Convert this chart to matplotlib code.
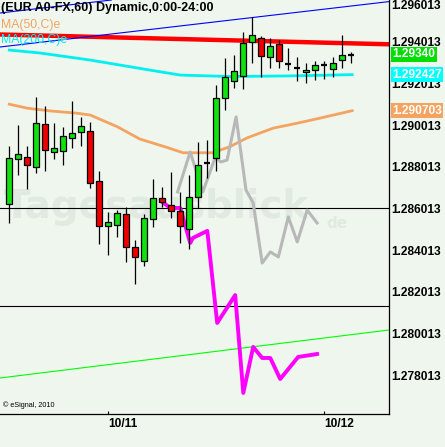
import matplotlib.pyplot as plt
import matplotlib.transforms as mtransforms
import numpy as np

plt.rcParams['font.family'] = ['Liberation Sans', 'DejaVu Sans']

# hourly candles, index 0 = 10/10 13:00
opens = [1.28621, 1.28837, 1.28846, 1.28798, 1.29005, 1.28870, 1.28877, 1.28937, 1.28968, 1.28973,
         1.28731, 1.28515, 1.28520, 1.28573, 1.28414, 1.28347, 1.28549, 1.28650, 1.28616, 1.28589,
         1.28501, 1.28654, 1.28821, 1.28842, 1.29130, 1.29213, 1.29238, 1.29401, 1.29417, 1.29326,
         1.29390, 1.29292, 1.29273, 1.29256, 1.29264, 1.29287, 1.29269, 1.29315, 1.29338]
highs = [1.28900, 1.29001, 1.28900, 1.29134, 1.29093, 1.29010, 1.28993, 1.29117, 1.29041, 1.29017,
         1.28781, 1.28582, 1.28593, 1.28609, 1.28449, 1.28574, 1.28742, 1.28704, 1.28774, 1.28680,
         1.28761, 1.28918, 1.28929, 1.29193, 1.29322, 1.29337, 1.29446, 1.29521, 1.29429, 1.29417,
         1.29409, 1.29370, 1.29326, 1.29300, 1.29310, 1.29310, 1.29329, 1.29433, 1.29353]
lows = [1.28532, 1.28761, 1.28696, 1.28772, 1.28782, 1.28837, 1.28811, 1.28892, 1.28902, 1.28700,
        1.28432, 1.28376, 1.28465, 1.28345, 1.28237, 1.28326, 1.28513, 1.28609, 1.28554, 1.28434,
        1.28405, 1.28602, 1.28746, 1.28782, 1.29073, 1.29178, 1.29173, 1.29298, 1.29233, 1.29274,
        1.29274, 1.29265, 1.29213, 1.29201, 1.29217, 1.29221, 1.29233, 1.29274, 1.29300]
closes = [1.28842, 1.28861, 1.28808, 1.29010, 1.28881, 1.28890, 1.28947, 1.28962, 1.28995, 1.28721,
          1.28517, 1.28534, 1.28578, 1.28414, 1.28366, 1.28554, 1.28650, 1.28633, 1.28589, 1.28515,
          1.28654, 1.28808, 1.28820, 1.29130, 1.29230, 1.29261, 1.29394, 1.29433, 1.29334, 1.29381,
          1.29307, 1.29291, 1.29272, 1.29265, 1.29288, 1.29286, 1.29298, 1.29337, 1.29340]

# moving averages
ma50_x = [0, 2.0, 4.5, 7.5, 9.0, 12.0, 14.5, 17.5, 19.3, 22.6, 24.5, 26.4, 29.3, 32.0, 34.5, 38.1]
ma50_y = [1.29101, 1.29082, 1.29069, 1.29058, 1.29049, 1.28993, 1.28934, 1.28894, 1.28868, 1.28868,
          1.28897, 1.28939, 1.28986, 1.29010, 1.29034, 1.29070]
ma200_x = [0, 3.4, 9.0, 12.3, 15.6, 19.0, 24.5, 31.2, 38.1]
ma200_y = [1.29361, 1.29347, 1.29313, 1.29289, 1.29265, 1.29241, 1.29234, 1.29237, 1.29243]

# overlay lines
gray_x = [18.7, 20.1, 21.5, 22.9, 23.5, 24.2, 25.2, 26.3, 27.1, 28.1, 29.0, 29.9, 31.0, 32.0, 33.1, 34.2]
gray_y = [1.28680, 1.28872, 1.28680, 1.28848, 1.28824, 1.28833, 1.29040, 1.28689, 1.28627, 1.28339,
          1.28392, 1.28368, 1.28560, 1.28440, 1.28593, 1.28531]
mag_x = [17, 17.9, 19, 20.1, 20.4, 22, 23.1, 25.1, 26, 27.1, 28.1, 29, 30.1, 32.1, 34.2]
mag_y = [1.28632, 1.28603, 1.28603, 1.28435, 1.28459, 1.28493, 1.28051, 1.28185, 1.27715, 1.27936,
         1.27883, 1.27883, 1.27782, 1.27888, 1.27902]

# trend lines (two anchor points each: index 0 and index 40)
red_trend = [1.294346, 1.293911]
blue_low = [1.293809, 1.295826]
blue_high = [1.295441, 1.297458]
green_trend = [1.277924, 1.280056]
hlines = [1.28603, 1.28132]

ytick_vals = [1.278013, 1.280013, 1.282013, 1.284013, 1.286013, 1.288013, 1.290013, 1.292013, 1.294013, 1.296013]
xtick_pos = [11, 35]
xtick_labels = ['10/11', '10/12']

last_price = 1.29340
ma200_last = 1.292427
ma50_last = 1.290703

bg = '#eef6ee'
fig = plt.figure(figsize=(4.45, 4.47), dpi=100, facecolor=bg)
ax = fig.add_axes([0, 33 / 447, 389 / 445, 414 / 447], facecolor=bg)

# watermark
ax.text(0.01, 0.5, 'Tagesausblick', transform=ax.transAxes, fontsize=28, fontweight='bold',
        family='DejaVu Sans', color='#e1eae1', va='center', ha='left', zorder=0.5)
ax.text(0.84, 0.46, 'de', transform=ax.transAxes, fontsize=11, fontweight='bold',
        family='DejaVu Sans', color='#e1eae1', va='center', ha='left', zorder=0.5)

for y in hlines:
    ax.axhline(y, color='black', lw=0.8, zorder=1)
ax.axline((0, red_trend[0]), (40, red_trend[1]), color='#ff0000', lw=3.2, zorder=1)
ax.axline((0, blue_low[0]), (40, blue_low[1]), color='#0000ff', lw=0.8, zorder=1)
ax.axline((0, blue_high[0]), (40, blue_high[1]), color='#0000ff', lw=0.8, zorder=1)
ax.axline((0, green_trend[0]), (40, green_trend[1]), color='#00ff00', lw=0.8, zorder=1)

ax.plot(ma50_x, ma50_y, color='#f4a460', lw=2.0, zorder=2)
ax.plot(ma200_x, ma200_y, color='#00f0f0', lw=2.0, zorder=2)
ax.plot(gray_x, gray_y, color='#b8b8b8', lw=2.2, zorder=2)
ax.plot(mag_x, mag_y, color='#ff00ff', lw=2.8, zorder=2)

# candles
idx = np.arange(len(opens))
o = np.array(opens)
c = np.array(closes)
ax.vlines(idx, lows, highs, color='black', lw=0.9, zorder=3)
body = c - o
doji = np.abs(body) < 0.00003
up = (body > 0) & ~doji
down = (body < 0) & ~doji
ax.bar(idx[up], body[up], bottom=o[up], width=0.65, color='#11e011', edgecolor='black', lw=0.9, zorder=4)
ax.bar(idx[down], body[down], bottom=o[down], width=0.65, color='#ee0000', edgecolor='black', lw=0.9, zorder=4)
ax.hlines(o[doji], idx[doji] - 0.33, idx[doji] + 0.33, color='black', lw=1.6, zorder=4)

ax.set_xlim(-1.033, 42.19)
ax.set_ylim(1.276141, 1.296013)

for s in ['left', 'top']:
    ax.spines[s].set_visible(False)
for s in ['right', 'bottom']:
    ax.spines[s].set_linewidth(0.9)

ax.yaxis.tick_right()
ax.set_yticks(ytick_vals)
ax.set_yticklabels(['%.6f' % v for v in ytick_vals])
ax.tick_params(axis='y', length=0, pad=1.5, labelsize=8.6)
for lab in ax.get_yticklabels():
    lab.set_fontweight('bold')
ax.get_yticklabels()[-1].set_va('top')

ax.set_xticks(xtick_pos)
ax.set_xticklabels(xtick_labels)
ax.tick_params(axis='x', direction='in', length=2, width=0.8, pad=3, labelsize=8.6)
for lab in ax.get_xticklabels():
    lab.set_fontweight('bold')
    lab.set_ha('left')

# price boxes on the right scale
trans = mtransforms.blended_transform_factory(ax.transAxes, ax.transData)
for val, txt, col in [(last_price, '1.29340', '#00dd00'),
                      (ma200_last, '1.292427', '#00ffff'),
                      (ma50_last, '1.290703', '#f4a460')]:
    ax.text(1.008, val, txt, transform=trans, ha='left', va='center', fontsize=8.6,
            fontweight='bold', color='white', clip_on=False, zorder=6,
            bbox=dict(boxstyle='square,pad=0.12', fc=col, ec='none'))

# legend texts
ax.text(0.002, 0.995, '(EUR A0-FX,60) Dynamic,0:00-24:00', transform=ax.transAxes, ha='left',
        va='top', fontsize=9, fontweight='bold', color='black', zorder=7)
ax.text(0.002, 0.955, 'MA(50,C)e', transform=ax.transAxes, ha='left', va='top', fontsize=8.8,
        color='#f4a460', zorder=7)
ax.text(0.002, 0.917, 'MA(200,C)e', transform=ax.transAxes, ha='left', va='top', fontsize=8.8,
        color='#00f0f0', zorder=7)
ax.text(0.008, 0.012, '\u00a9 eSignal, 2010', transform=ax.transAxes, ha='left', va='bottom',
        fontsize=5.2, color='black', zorder=7)

fig.savefig('out.png', dpi=100, facecolor=bg)
